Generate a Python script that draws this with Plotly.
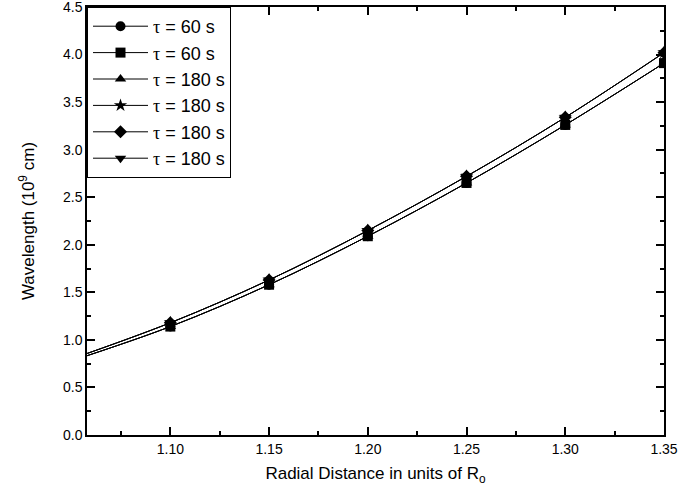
import plotly.graph_objects as go

# radial distance (units of R_o)
radius = [1.05, 1.10, 1.15, 1.20, 1.25, 1.30, 1.35]

# wavelength (10^9 cm), two nearly overlapping curves
wl_upper = [0.80, 1.18, 1.63, 2.15, 2.72, 3.34, 4.02]
wl_lower = [0.78, 1.14, 1.58, 2.09, 2.65, 3.26, 3.91]

tau = '<span style="font-family:Liberation Serif">τ</span>'
labels = [f"{tau} = 60 s", f"{tau} = 60 s", f"{tau} = 180 s",
          f"{tau} = 180 s", f"{tau} = 180 s", f"{tau} = 180 s"]
symbols = ["circle", "square", "triangle-up", "star", "diamond", "triangle-down"]
series = [wl_lower, wl_lower, wl_lower, wl_upper, wl_upper, wl_upper]

fig = go.Figure()

for name, sym, ys in zip(labels, symbols, series):
    fig.add_trace(go.Scatter(
        x=radius,
        y=ys,
        mode='lines+markers',
        name=name,
        line=dict(color='black', width=1, shape='spline'),
        marker=dict(color='black', symbol=sym, size=10)
    ))

axis_style = dict(
    showline=True, linecolor='black', linewidth=1.5, mirror='allticks',
    ticks='inside', ticklen=8, tickwidth=1.5, tickcolor='black',
    showgrid=False, zeroline=False, automargin=False,
    ticklabeloverflow='allow',
    tickfont=dict(family='Arial', size=14, color='black'),
)

fig.update_layout(
    width=679,
    height=503,
    margin=dict(l=87, r=15, t=7, b=68),
    plot_bgcolor='white',
    paper_bgcolor='white',
    font=dict(family='Arial', color='black'),
    xaxis=dict(
        range=[1.0578, 1.35], dtick=0.05, tickformat='.2f',
        minor=dict(ticks='inside', ticklen=4, dtick=0.025, tickcolor='black', tickwidth=1.5),
        title=dict(text='Radial Distance in units of R<sub>o</sub>', font=dict(size=17), standoff=12),
        **axis_style
    ),
    yaxis=dict(
        range=[0, 4.5], dtick=0.5, tickformat='.1f',
        minor=dict(ticks='inside', ticklen=4, dtick=0.25, tickcolor='black', tickwidth=1.5),
        title=dict(text='Wavelength (10<sup>9</sup> cm)', font=dict(size=17), standoff=24),
        **axis_style
    ),
    legend=dict(
        x=0, y=1, xanchor='left', yanchor='top',
        bgcolor='white', bordercolor='black', borderwidth=1,
        font=dict(size=18),
        itemwidth=55,
        tracegroupgap=0
    ),
    showlegend=True
)

fig.write_html("out.html", config={'displayModeBar': False},
               post_script="document.body.style.margin='0';")
